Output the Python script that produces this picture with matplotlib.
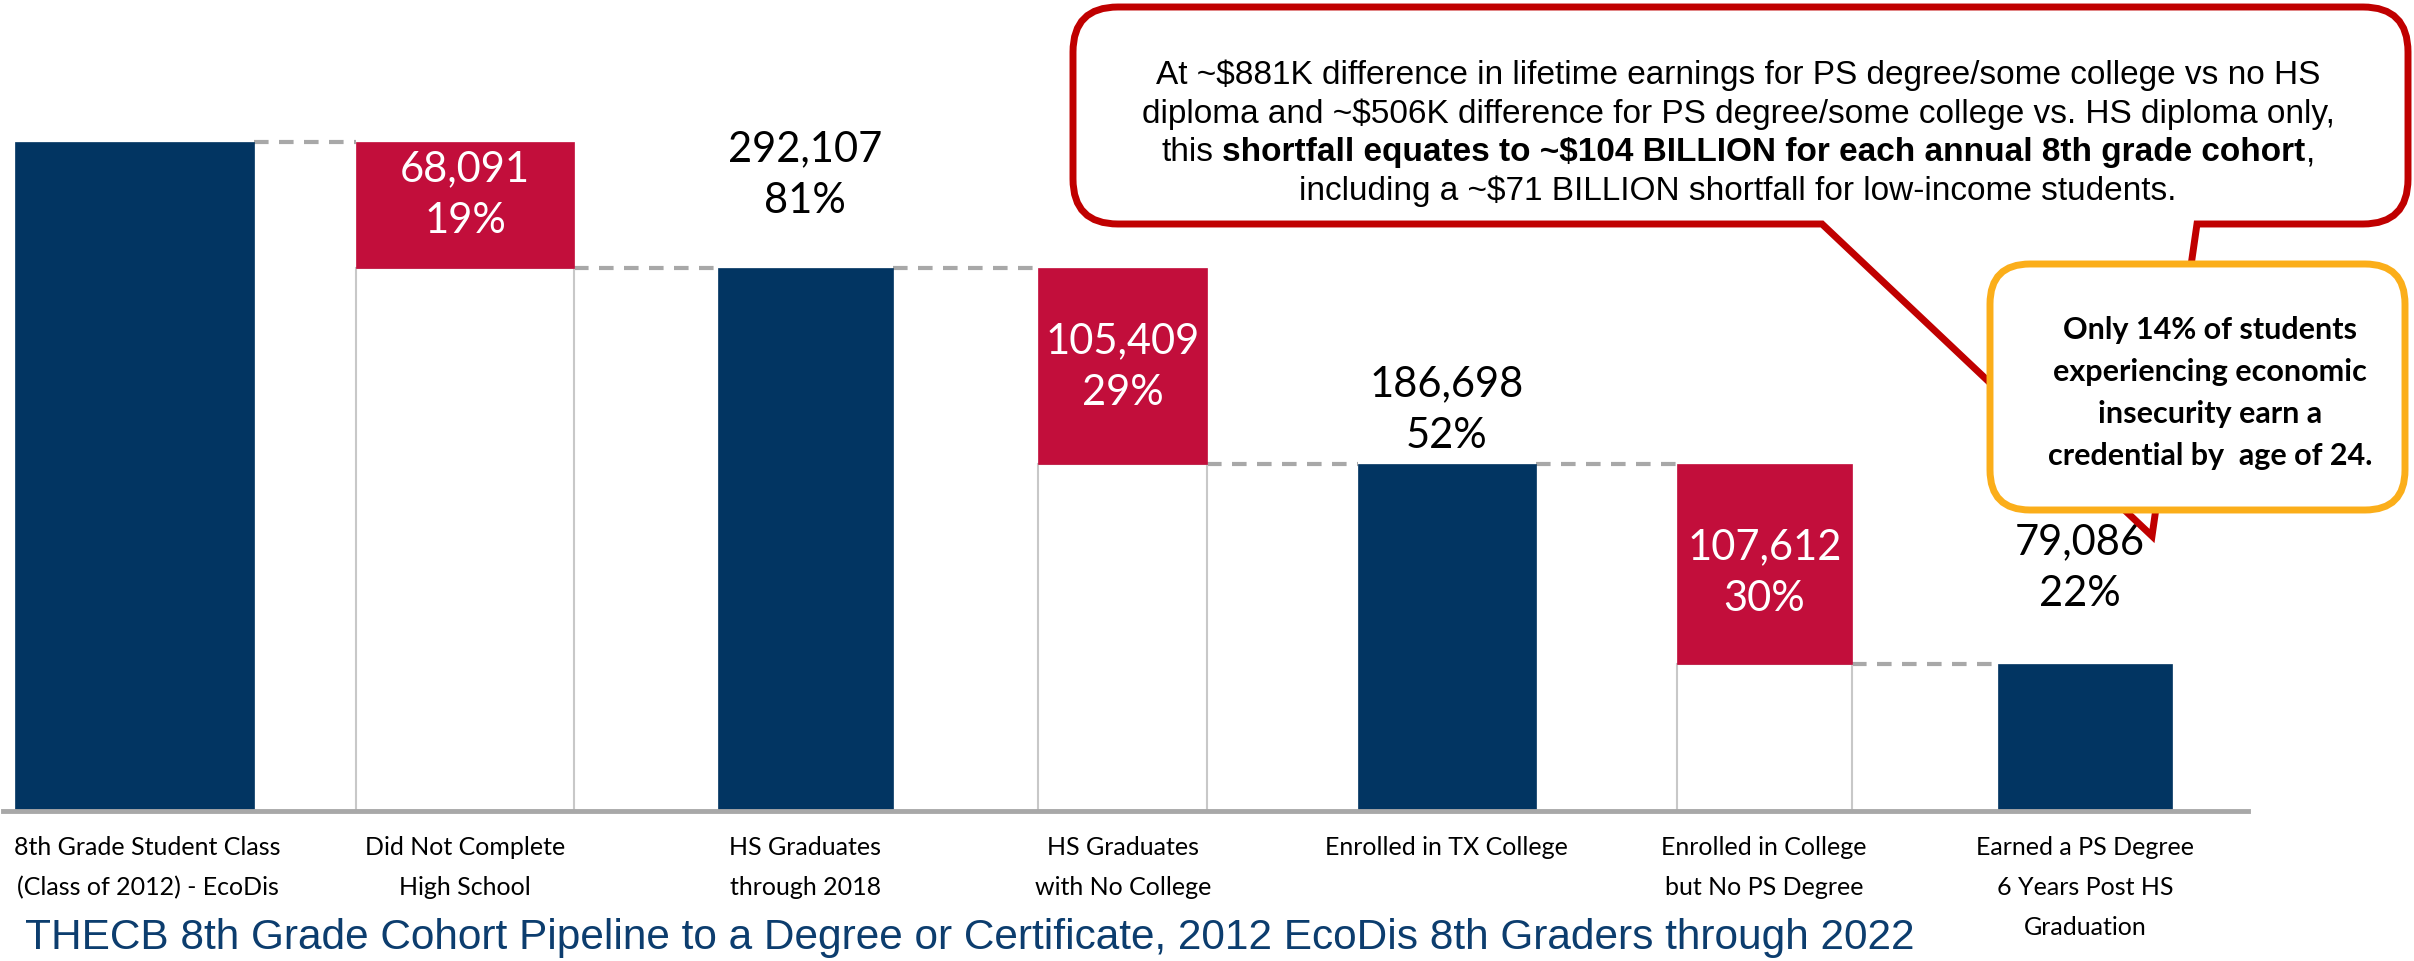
import matplotlib
matplotlib.use('Agg')
import matplotlib.pyplot as plt
from matplotlib.path import Path
from matplotlib.patches import PathPatch, FancyBboxPatch

# ---------------- data ----------------
categories = ["8th Grade Student Class\n(Class of 2012) - EcoDis",
              "Did Not Complete\nHigh School",
              "HS Graduates\nthrough 2018",
              "HS Graduates\nwith No College",
              "Enrolled in TX College",
              "Enrolled in College\nbut No PS Degree",
              "Earned a PS Degree\n6 Years Post HS\nGraduation"]
kinds = ["total", "loss", "total", "loss", "total", "loss", "total"]
values = [360198, 68091, 292107, 105409, 186698, 107612, 79086]
count_labels = ["", "68,091", "292,107", "105,409", "186,698", "107,612", "79,086"]
pct_labels = ["", "19%", "81%", "29%", "52%", "30%", "22%"]

title = "THECB 8th Grade Cohort Pipeline to a Degree or Certificate, 2012 EcoDis 8th Graders through 2022"
callout_lines = ["At ~$881K difference in lifetime earnings for PS degree/some college vs no HS",
                 "diploma and ~$506K difference for PS degree/some college vs. HS diploma only,",
                 None,
                 "including a ~$71 BILLION shortfall for low-income students."]
callout_mixed = [("this", "normal"),
                 ("shortfall equates to ~$104 BILLION for each annual 8th grade cohort", "bold"),
                 (",", "normal")]
note_text = "Only 14% of students\nexperiencing economic\ninsecurity earn a\ncredential by  age of 24."

# ---------------- style ----------------
NAVY = "#023562"
RED = "#C20E3B"
GREY = "#A8A8A8"
CALLOUT_RED = "#C00000"
ORANGE = "#FBAE1A"
TITLE_BLUE = "#0C3D6E"
positions = [-0.02, 1.0, 2.05, 3.03, 4.03, 5.01, 6.0]
tick_pos = [0.02, 1.0, 2.05, 3.03, 4.03, 5.01, 6.0]
widths = [0.74, 0.67, 0.54, 0.52, 0.55, 0.54, 0.54]
label_offsets = [0, 8, 68, 0, 40, -6, 70]   # points
label_dx = [0, 0, 0, 0, 0, 0, -4]           # points

W, H = 2414, 962
base_px, top_px = 812, 143
x0_px, x1_px = 3, 2248
c0, step = 141, 324

fig = plt.figure(figsize=(W / 100, H / 100), dpi=100)
ax = fig.add_axes([x0_px / W, (H - base_px) / H, (x1_px - x0_px) / W, base_px / H])
ymax = values[0] * base_px / (base_px - top_px)
ax.set_ylim(0, ymax)
ax.set_xlim((x0_px - c0) / step, (x1_px - c0) / step)

running = None
for i, (k, v) in enumerate(zip(kinds, values)):
    w = widths[i]
    p = positions[i]
    if k == "total":
        ax.bar(p, v, width=w, color=NAVY, edgecolor=NAVY, linewidth=0.5, zorder=3)
        running = v
        if count_labels[i]:
            ax.annotate(count_labels[i] + "\n" + pct_labels[i], xy=(p, v),
                        xytext=(label_dx[i], label_offsets[i]), textcoords="offset points",
                        ha="center", va="center", fontsize=30, family="Lato",
                        color="black", linespacing=1.45, zorder=5)
    else:
        bottom = running - v
        ax.bar(p, bottom, width=w, color="white", edgecolor="#C8C8C8", linewidth=1.5, zorder=3)
        ax.bar(p, v, bottom=bottom, width=w, color=RED, edgecolor=RED, linewidth=0.5, zorder=3)
        ax.annotate(count_labels[i] + "\n" + pct_labels[i], xy=(p, bottom + v / 2),
                    xytext=(label_dx[i], label_offsets[i]), textcoords="offset points",
                    ha="center", va="center", fontsize=30, family="Lato",
                    color="white", linespacing=1.45, zorder=5)
        running = bottom

# dashed connectors
conn_levels = [values[0], values[2], values[2], values[4], values[4], values[6]]
for i in range(6):
    xa = positions[i] + widths[i] / 2
    xb = positions[i + 1] - widths[i + 1] / 2
    ax.plot([xa, xb], [conn_levels[i], conn_levels[i]], color=GREY, lw=3,
            linestyle=(0, (3.5, 2.5)), zorder=2, solid_capstyle="butt")

for s in ["top", "left", "right"]:
    ax.spines[s].set_visible(False)
ax.spines["bottom"].set_color(GREY)
ax.spines["bottom"].set_linewidth(3.5)
ax.spines["bottom"].set_zorder(4)
ax.set_yticks([])
ax.set_xticks(tick_pos)
ax.set_xticklabels(categories, fontsize=18, family="Lato", linespacing=1.9)
ax.tick_params(axis="x", length=0, pad=17)
ax.patch.set_alpha(0)

fig.text(25 / W, 1 - 938 / H, title, fontsize=30.5, family="Liberation Sans",
         color=TITLE_BLUE, ha="left", va="center")

# ---------------- overlay for callouts (pixel coords) ----------------
ov = fig.add_axes([0, 0, 1, 1], zorder=10)
ov.set_xlim(0, W)
ov.set_ylim(H, 0)
ov.axis("off")

L, R, T, B, r = 1073, 2408, 8, 225, 45
a, b = 1822, 2197
tip = (2152, 537)
verts = [(L + r, T), (R - r, T), (R, T), (R, T + r), (R, B - r), (R, B), (R - r, B),
         (b, B), tip, (a, B), (L + r, B), (L, B), (L, B - r), (L, T + r), (L, T), (L + r, T),
         (L + r, T)]
codes = [Path.MOVETO, Path.LINETO, Path.CURVE3, Path.CURVE3, Path.LINETO, Path.CURVE3, Path.CURVE3,
         Path.LINETO, Path.LINETO, Path.LINETO, Path.LINETO, Path.CURVE3, Path.CURVE3, Path.LINETO,
         Path.CURVE3, Path.CURVE3, Path.CLOSEPOLY]
ov.add_patch(PathPatch(Path(verts, codes), facecolor="white", edgecolor=CALLOUT_RED,
                       linewidth=5, joinstyle="miter", zorder=1))

fs_c = 24
fam_c = "Liberation Sans"
cx = 1738
baselines = [84 + 38.7 * k for k in range(4)]
for k, line in enumerate(callout_lines):
    if line is not None:
        ov.text(cx, baselines[k], line, fontsize=fs_c, family=fam_c, ha="center",
                va="baseline", color="black", zorder=3)

renderer = fig.canvas.get_renderer()
def text_w(s, weight):
    t = ov.text(0, 0, s, fontsize=fs_c, family=fam_c, fontweight=weight)
    wdt = t.get_window_extent(renderer).width
    t.remove()
    return wdt
space_w = text_w("x x", "normal") - text_w("xx", "normal")
part_ws = [text_w(s, wgt) for s, wgt in callout_mixed]
total_w = sum(part_ws) + space_w
x = cx - total_w / 2
for idx, ((s, wgt), pw) in enumerate(zip(callout_mixed, part_ws)):
    ov.text(x, baselines[2], s, fontsize=fs_c, family=fam_c, fontweight=wgt,
            ha="left", va="baseline", color="black", zorder=3)
    x += pw
    if idx == 0:
        x += space_w

# orange note box
ox0, oy0, ox1, oy1 = 1990, 265, 2405, 511
ov.add_patch(FancyBboxPatch((ox0 + 40, oy0 + 40), (ox1 - ox0) - 80, (oy1 - oy0) - 80,
                            boxstyle="round,pad=40", facecolor="white", edgecolor=ORANGE,
                            linewidth=5, zorder=4))
ov.text(2210, 393, note_text, fontsize=22, family="Lato", fontweight="bold",
        ha="center", va="center", linespacing=1.6, color="black", zorder=5)

fig.savefig("out.png", dpi=100)
